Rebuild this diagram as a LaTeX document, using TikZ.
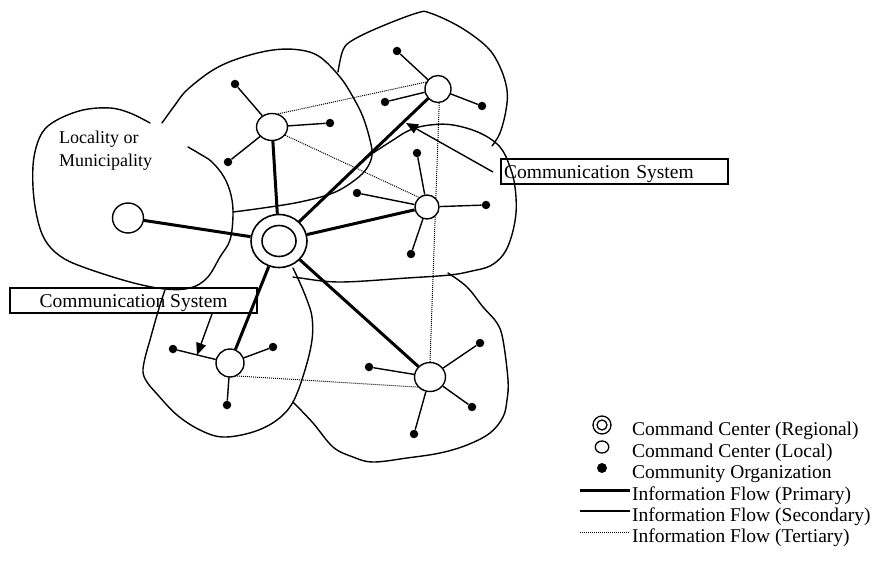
\documentclass[tikz,border=0pt]{standalone}
\usepackage{fontspec}
\setmainfont{Liberation Serif}
\usetikzlibrary{shapes.geometric,arrows.meta,backgrounds}

\begin{document}
\begin{tikzpicture}[x=1pt,y=-1pt,
  every node/.style={font=\fontsize{19.5}{22}\selectfont},
  region/.style={line width=1.4pt, line join=round, line cap=round},
  localcc/.style={ellipse, draw, fill=white, line width=1.4pt, inner sep=0pt},
  regcc/.style={ellipse, draw, fill=white, line width=1.6pt, inner sep=0pt},
  org/.style={circle, fill=black, inner sep=0pt, minimum size=8.5pt},
  primary/.style={line width=3pt},
  secondary/.style={line width=1.4pt},
  tertiary/.style={line width=1pt, dash pattern=on 1pt off 1pt},
  callout/.style={draw, line width=2.2pt, inner sep=0pt, minimum height=25pt,
    text height=13pt, text depth=0pt},
  pointer/.style={line width=1.4pt, -{Triangle[length=12pt,width=10pt]}},
  legendtext/.style={anchor=base west, inner sep=0pt}
]
\useasboundingbox (0,0) rectangle (875,567);

% ---- command centres ----
\node[regcc, minimum width=56pt, minimum height=53pt] (R) at (279,241) {};
\node[regcc, minimum width=34pt, minimum height=31pt] (Rin) at (279,241) {};

\node[localcc, minimum width=31pt, minimum height=30pt] (L1) at (128,218) {};
\node[localcc, minimum width=31pt, minimum height=27pt] (L2) at (272,127) {};
\node[localcc, minimum width=26pt, minimum height=27pt] (L3) at (438,89) {};
\node[localcc, minimum width=24pt, minimum height=24pt] (L4) at (427,207) {};
\node[localcc, minimum width=28pt, minimum height=28pt] (L5) at (230,363) {};
\node[localcc, minimum width=31pt, minimum height=29pt] (L6) at (430,377) {};

% ---- community organizations ----
\node[org] (d21) at (235,84) {};
\node[org] (d22) at (330,123) {};
\node[org] (d23) at (228,162) {};
\node[org] (d31) at (397,51) {};
\node[org] (d32) at (385,102) {};
\node[org] (d33) at (482,106) {};
\node[org] (d41) at (417,153) {};
\node[org] (d42) at (357,193) {};
\node[org] (d43) at (486,205) {};
\node[org] (d44) at (411,254) {};
\node[org] (d51) at (173,349) {};
\node[org] (d52) at (273,347) {};
\node[org] (d53) at (227,405) {};
\node[org] (d61) at (369,367) {};
\node[org] (d62) at (480,343) {};
\node[org] (d63) at (472,407) {};
\node[org] (d64) at (414,434) {};

% ---- labels ----
\node[anchor=base west, inner sep=0pt, font=\fontsize{18}{22}\selectfont] (loc1) at (59,143) {Locality or};
\node[anchor=base west, inner sep=0pt, font=\fontsize{18}{22}\selectfont] (loc2) at (59,166) {Municipality};

\node[callout, anchor=north west, text width=221pt, inner xsep=3pt, align=left] (box1) at (500,158) {Communication System};
\node[callout, anchor=north west, minimum width=247pt, align=center] (box2) at (9,287) {Communication System};

\coordinate (p1s) at (493,172);
\coordinate (p1e) at (406,123);
\coordinate (p2s) at (212,314);
\coordinate (p2e) at (197,355);

% ---- legend ----
\node[regcc, line width=1.3pt, minimum size=18pt] (lgR) at (602,425) {};
\node[regcc, line width=1.3pt, minimum size=10pt] (lgRin) at (602,425) {};
\node[localcc, line width=1.3pt, minimum width=13.5pt, minimum height=12pt] (lgL) at (602,447) {};
\node[org, minimum size=10pt] (lgO) at (602,468) {};
\coordinate (lg4a) at (580,490); \coordinate (lg4b) at (630,490);
\coordinate (lg5a) at (580,511); \coordinate (lg5b) at (630,511);
\coordinate (lg6a) at (580,532); \coordinate (lg6b) at (630,532);
\node[legendtext] (lt1) at (632,435.5) {Command Center (Regional)};
\node[legendtext] (lt2) at (632,457) {Command Center (Local)};
\node[legendtext] (lt3) at (632,478.5) {Community Organization};
\node[legendtext] (lt4) at (632,500) {Information Flow (Primary)};
\node[legendtext] (lt5) at (632,521) {Information Flow (Secondary)};
\node[legendtext] (lt6) at (632,542.5) {Information Flow (Tertiary)};

\begin{scope}[on background layer]
  % locality outlines
  \draw[region] plot[smooth, tension=0.6] coordinates {(150,123) (130,113) (110,108) (83,110) (57,120) (42,133) (34,157) (33,187) (37,217) (45,240) (60,256) (83,267) (130,282) (165,289) (190,288) (207,278) (220,257) (230,240) (233,215) (231,195) (224,177) (212,162) (200,154) (188,147)};
  \draw[region] plot[smooth, tension=0.6] coordinates {(162,123) (175,105) (187,90) (213,70) (240,58) (273,50) (300,50) (320,57) (340,77) (353,97) (363,117) (370,140) (372,155) (367,168) (355,180) (333,193) (300,202) (263,208) (233,212)};
  \draw[region] plot[smooth, tension=0.6] coordinates {(338,72) (343,50) (353,40) (380,27) (417,13) (430,13) (460,27) (487,47) (500,67) (507,90) (506,110) (500,133) (492,146)};
  \draw[region] plot[smooth, tension=0.6] coordinates {(370,155) (390,142) (410,130) (430,125) (453,125) (480,133) (500,147) (510,167) (515,187) (516,213) (511,238) (503,255) (490,266) (472,271) (450,275) (407,278) (340,282) (300,278) (293,277)};
  \draw[region] plot[smooth, tension=0.6] coordinates {(448,273) (467,287) (483,307) (497,323) (503,340) (508,380) (507,400) (503,417) (490,433) (467,445) (440,453) (407,458) (373,462) (353,457) (333,447) (313,423) (293,402)};
  \draw[region] plot[smooth, tension=0.6] coordinates {(165,290) (160,305) (155,322) (150,340) (145,358) (143,372) (147,382) (157,394) (177,415) (200,430) (223,437) (253,432) (277,420) (293,402) (305,370) (312,340) (312,317) (307,300) (300,283) (293,268)};

  % tertiary flows
  \draw[tertiary] (L2.65) -- (L3.150);
  \draw[tertiary] (L2.-32) -- (L4.130);
  \draw[tertiary] (L3.-85) -- (L6.90);
  \draw[tertiary] (L5.-62) -- (L6.-140);

  % primary flows
  \foreach \n in {L1,L2,L3,L4,L5,L6} \draw[primary] (R) -- (\n);

  % secondary flows
  \foreach \d in {d21,d22,d23} \draw[secondary] (L2) -- (\d);
  \foreach \d in {d31,d32,d33} \draw[secondary] (L3) -- (\d);
  \foreach \d in {d41,d42,d43,d44} \draw[secondary] (L4) -- (\d);
  \foreach \d in {d51,d52,d53} \draw[secondary] (L5) -- (\d);
  \foreach \d in {d61,d62,d63,d64} \draw[secondary] (L6) -- (\d);

  % communication system pointers
  \draw[pointer] (p1s) -- (p1e);
  \draw[pointer] (p2s) -- (p2e);

  % legend lines
  \draw[primary] (lg4a) -- (lg4b);
  \draw[secondary] (lg5a) -- (lg5b);
  \draw[tertiary] (lg6a) -- (lg6b);
\end{scope}
\end{tikzpicture}
\end{document}
